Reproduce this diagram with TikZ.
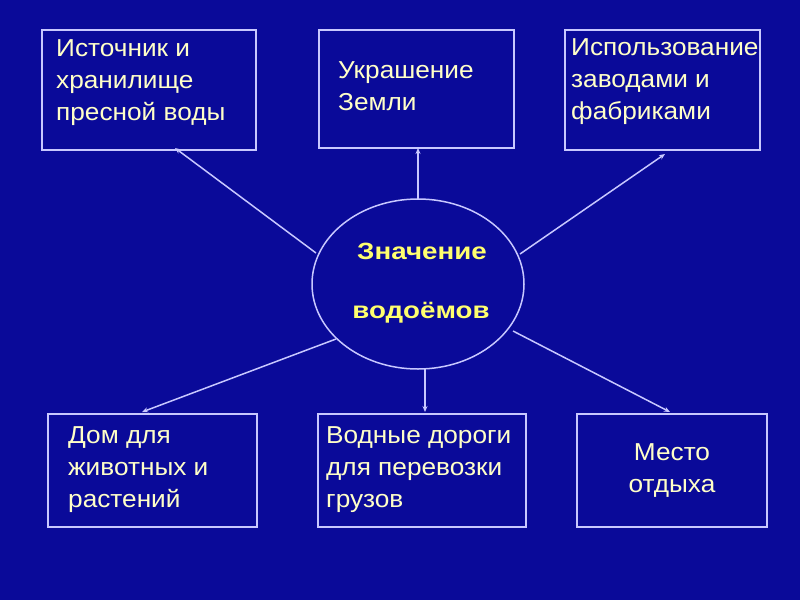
\documentclass[tikz,border=0pt]{standalone}
\usepackage{fontspec}
\setmainfont{Liberation Sans}
\newfontfamily\boxfont[FakeStretch=1.07]{Liberation Sans}
\newfontfamily\ctrfont[FakeStretch=1.18]{Liberation Sans}
\usetikzlibrary{arrows.meta}
\definecolor{bg}{RGB}{10,10,153}
\definecolor{ln}{RGB}{200,200,255}
\definecolor{tx}{RGB}{255,255,200}
\definecolor{yl}{RGB}{255,255,110}
\tikzset{
  box/.style={draw=ln, line width=1.5pt, anchor=north west, inner sep=0pt},
  lbl/.style={text=tx, anchor=north west, inner sep=0pt, align=left,
    font=\boxfont\fontsize{24.5}{32}\selectfont},
  clbl/.style={text=tx, inner sep=0pt, align=center,
    font=\boxfont\fontsize{24.5}{32}\selectfont},
  ctr/.style={text=yl, inner sep=0pt, font=\ctrfont\bfseries\fontsize{23.5}{28}\selectfont},
  conn/.style={draw=ln, line width=1.5pt, -{Stealth[length=6pt,width=5pt]}},
}
\begin{document}
\begin{tikzpicture}[x=1pt,y=-1pt]
\fill[bg] (0,0) rectangle (800,600);
\useasboundingbox (0,0) rectangle (800,600);
% boxes
\node[box, minimum width=214pt, minimum height=120pt] (b1) at (41,29) {};
\node[box, minimum width=195pt, minimum height=118pt] (b2) at (318,29) {};
\node[box, minimum width=195pt, minimum height=120pt] (b3) at (564,29) {};
\node[box, minimum width=209pt, minimum height=113pt] (b4) at (47,413) {};
\node[box, minimum width=208pt, minimum height=113pt] (b5) at (317,413) {};
\node[box, minimum width=190pt, minimum height=113pt] (b6) at (576,413) {};
% ellipse
\draw[ln, line width=1.5pt] (418,284) ellipse [x radius=106, y radius=85];
% texts
\node[lbl] (t1) at (56,39) {Источник и\\хранилище\\пресной воды};
\node[lbl] (t2) at (338,61) {Украшение\\Земли};
\node[lbl] (t3) at (571,38) {Использование\\заводами и\\фабриками};
\node[lbl] (t4) at (68,426) {Дом для\\животных и\\растений};
\node[lbl] (t5) at (326,426) {Водные дороги\\для перевозки\\грузов};
\node[clbl] (t6) at (672,471) {Место\\отдыха};
\node[ctr] (c1) at (422,251) {Значение};
\node[ctr] (c2) at (421,313) {водоёмов};
% connector endpoints
\coordinate (s1) at (316,253); \coordinate (d1) at (175,148);
\coordinate (s2) at (418,199); \coordinate (d2) at (418,148);
\coordinate (s3) at (520,254); \coordinate (d3) at (665,154);
\coordinate (s4) at (336,339); \coordinate (d4) at (142,412);
\coordinate (s5) at (425,369); \coordinate (d5) at (425,412);
\coordinate (s6) at (513,331); \coordinate (d6) at (670,412);
\draw[conn] (s1) -- (d1);
\draw[conn] (s2) -- (d2);
\draw[conn] (s3) -- (d3);
\draw[conn] (s4) -- (d4);
\draw[conn] (s5) -- (d5);
\draw[conn] (s6) -- (d6);
\end{tikzpicture}
\end{document}
